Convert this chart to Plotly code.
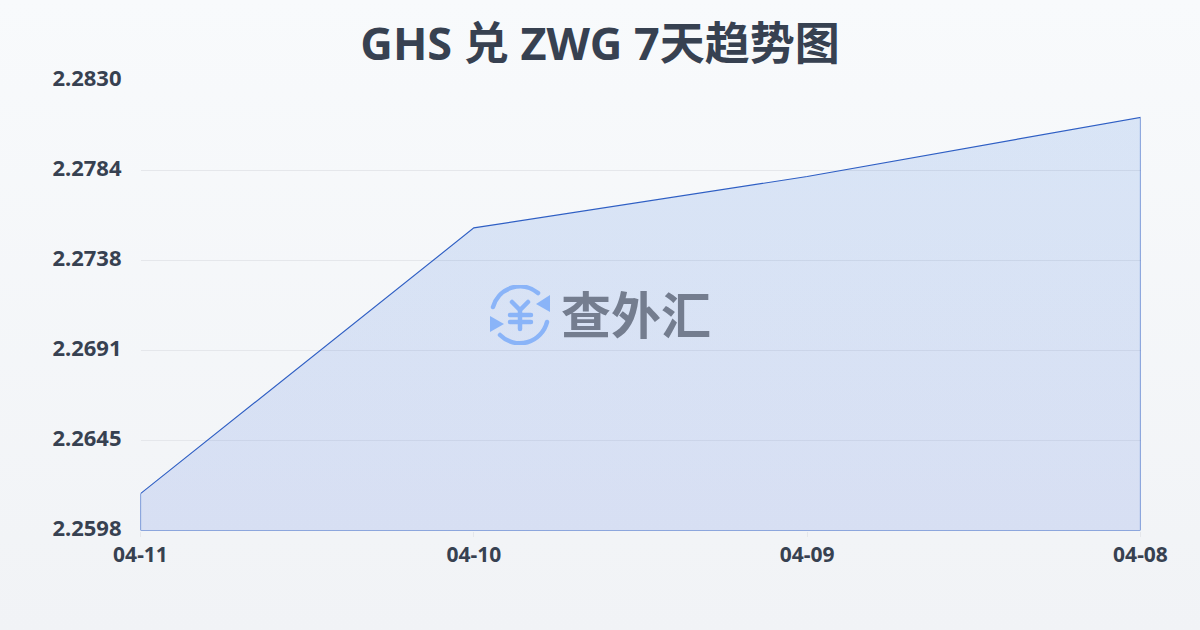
import base64
import plotly.graph_objects as go

dates = ["04-11", "04-10", "04-09", "04-08"]
rates = [2.2617, 2.2754, 2.27805, 2.2811]
baseline = 2.2598
axis_top = 2.2830
y_tick_values = [2.2598, 2.26444, 2.26908, 2.27372, 2.27836, 2.2830]
y_tick_labels = ["2.2598", "2.2645", "2.2691", "2.2738", "2.2784", "2.2830"]
title_text = "GHS 兑 ZWG 7天趋势图"
watermark_text = "查外汇"

INK = "#374151"
FONT = "'Noto Sans', 'Noto Sans CJK SC', sans-serif"

logo_svg = """<svg xmlns='http://www.w3.org/2000/svg' viewBox='0 0 60 60'>
<g fill='none' stroke='#8ab4f8' stroke-width='4.5' stroke-linecap='round'>
<path d='M3 22 A28 28 0 0 1 48 8'/>
<path d='M57 37 A28 28 0 0 1 10 50'/>
<path d='M22 17 L30 25 L38 17 M30 25 V44 M20 30 H41 M20 37 H41'/>
</g>
<path fill='#8ab4f8' d='M60 10 L60 27 L46 19 Z M0 31 L0 47 L14 39 Z'/>
</svg>"""
logo_uri = "data:image/svg+xml;base64," + base64.b64encode(logo_svg.encode()).decode()

fig = go.Figure()
fig.add_trace(go.Scatter(
    x=dates + [dates[-1], dates[0], dates[0]],
    y=rates + [baseline, baseline, rates[0]],
    mode="lines",
    line=dict(color="#2f5fc4", width=1.15),
    fill="toself",
    fillgradient=dict(
        type="vertical",
        colorscale=[[0, "rgba(63,105,221,0.15)"], [1, "rgba(49,117,219,0.15)"]],
    ),
    cliponaxis=False,
    hoverinfo="skip",
    showlegend=False,
))

fig.update_layout(
    width=1200,
    height=630,
    margin=dict(l=130, r=50, t=70, b=90),
    paper_bgcolor="rgba(0,0,0,0)",
    plot_bgcolor="rgba(0,0,0,0)",
    font=dict(family=FONT, color=INK),
    title=dict(
        text=title_text,
        x=0.5, xanchor="center",
        y=1 - 44 / 630, yanchor="middle",
        font=dict(size=45, family=FONT, color=INK, weight="bold"),
    ),
    xaxis=dict(
        type="category",
        categoryorder="array",
        categoryarray=dates,
        range=[0, len(dates) - 1],
        domain=[10.5 / 1020, 1010.5 / 1020],
        showgrid=False,
        zeroline=False,
        showline=False,
        ticks="outside",
        ticklen=5,
        tickwidth=1,
        tickcolor="#e5e7eb",
        ticklabelstandoff=0,
        tickfont=dict(size=21, family=FONT, color=INK, weight="bold"),
    ),
    yaxis=dict(
        range=[baseline, axis_top],
        domain=[9.5 / 470, 459.5 / 470],
        tickmode="array",
        tickvals=y_tick_values,
        ticktext=y_tick_labels,
        showgrid=True,
        gridcolor="#e5e7eb",
        gridwidth=1,
        zeroline=False,
        showline=False,
        ticks="",
        ticklabelstandoff=18,
        ticklabelshift=-2,
        tickfont=dict(size=22, family=FONT, color=INK, weight="bold"),
    ),
    images=[dict(
        source=logo_uri, xref="paper", yref="paper",
        x=(490 - 130) / 1020, y=(540 - 315) / 470,
        sizex=60 / 1020, sizey=60 / 470,
        xanchor="left", yanchor="middle", layer="above",
    )],
    annotations=[dict(
        text=watermark_text, xref="paper", yref="paper",
        x=(636 - 130) / 1020, y=(540 - 312) / 470,
        xanchor="center", yanchor="middle", showarrow=False,
        font=dict(size=50, family="'Noto Sans CJK SC'", color="#747d8f", weight="bold"),
    )],
)

post = """
document.documentElement.style.height='100%';
document.body.style.margin='0';
document.body.style.height='630px';
document.body.style.background='linear-gradient(180deg,#f8fafc 0%,#f1f3f6 100%)';
"""
fig.write_html("out.html", post_script=post, config=dict(displayModeBar=False))
